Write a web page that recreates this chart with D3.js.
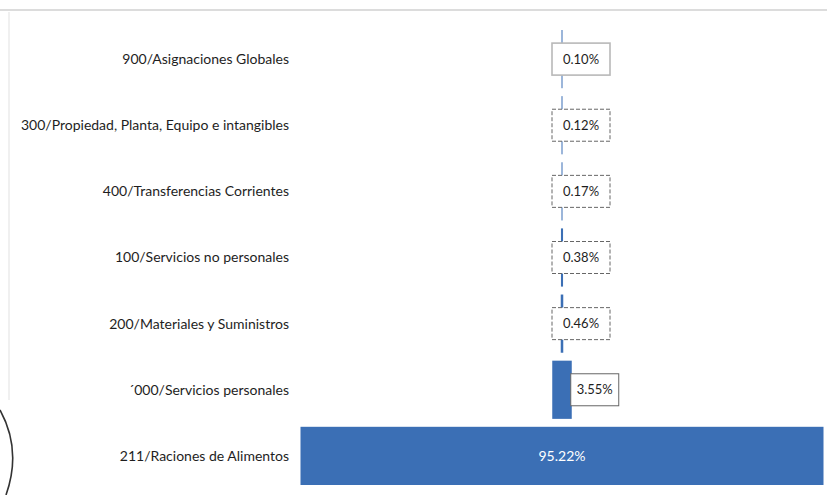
<!DOCTYPE html>
<html>
<head>
<meta charset="utf-8">
<script src="https://cdn.jsdelivr.net/npm/d3@7.9.0/dist/d3.min.js"></script>
<style>
  body { margin: 0; background: #fff; }
  svg { display: block; }
  .cat { font-family: Lato, "Open Sans", sans-serif; font-size: 14px; fill: #1e1e1e; }
  .pct { font-family: Lato, "Open Sans", sans-serif; font-size: 13px; fill: #1e1e1e; }
</style>
</head>
<body>
<svg id="chart" width="827" height="495"></svg>
<script>
// data
const categories = [
  '900/Asignaciones Globales',
  '300/Propiedad, Planta, Equipo e intangibles',
  '400/Transferencias Corrientes',
  '100/Servicios no personales',
  '200/Materiales y Suministros',
  '\u00b4000/Servicios personales',
  '211/Raciones de Alimentos'
];
const shares = [0.10, 0.12, 0.17, 0.38, 0.46, 3.55, 95.22];
const shareLabels = ['0.10%', '0.12%', '0.17%', '0.38%', '0.46%', '3.55%', '95.22%'];

const width = 827, height = 495;
const centerX = 562;
const barColor = '#3b6fb5';

const svg = d3.select('#chart');

// scan frame bits
svg.append('line')
  .attr('x1', 0).attr('x2', width).attr('y1', 10).attr('y2', 10)
  .attr('stroke', '#d0d0d0').attr('stroke-width', 1.5);
svg.append('line')
  .attr('x1', 9).attr('x2', 9).attr('y1', 12).attr('y2', 400)
  .attr('stroke', '#f0f0f0').attr('stroke-width', 2);
svg.append('path')
  .attr('d', 'M 0 410 Q 22 450 6 495')
  .attr('fill', 'none').attr('stroke', '#333').attr('stroke-width', 1.6);

let y = d3.scaleBand()
  .domain(categories)
  .range([30, 485])
  .paddingInner(0.12)
  .paddingOuter(0);

// funnel: widths from linear scale, bars centered
let w = d3.scaleLinear().domain([0, d3.max(shares)]).range([0, 523]);

let rows = categories.map((c, i) => ({ cat: c, value: shares[i], label: shareLabels[i] }));

svg.append('g')
  .selectAll('rect')
  .data(rows)
  .join('rect')
  .attr('x', d => centerX - Math.max(w(d.value), 1) / 2)
  .attr('y', d => y(d.cat))
  .attr('width', d => Math.max(w(d.value), 1))
  .attr('height', y.bandwidth())
  .attr('fill', barColor);

// category labels
svg.append('g')
  .selectAll('text')
  .data(rows)
  .join('text')
  .attr('class', 'cat')
  .attr('x', 289)
  .attr('y', d => y(d.cat) + y.bandwidth() / 2)
  .attr('dy', '0.35em')
  .attr('text-anchor', 'end')
  .text(d => d.cat);

// value labels
let big = rows.filter(d => w(d.value) > 100);
let small = rows.filter(d => w(d.value) <= 100);

let boxes = svg.append('g')
  .selectAll('g')
  .data(small)
  .join('g')
  .attr('transform', d => {
    let right = centerX + w(d.value) / 2;
    let bx = w(d.value) > 10 ? right - 1 : centerX - 10;
    return `translate(${bx},${y(d.cat) + y.bandwidth() / 2})`;
  });

boxes.append('rect')
  .attr('x', 0)
  .attr('y', -16)
  .attr('width', d => w(d.value) > 10 ? 48 : 58)
  .attr('height', 32)
  .attr('fill', '#fff')
  .attr('stroke', (d, i) => i === 0 ? '#b8b8b8' : '#666')
  .attr('stroke-width', (d, i) => i === 0 ? 1.6 : 1)
  .attr('stroke-dasharray', (d, i) => i === 0 || w(d.value) > 10 ? null : '4,2');

boxes.append('text')
  .attr('class', 'pct')
  .attr('x', d => (w(d.value) > 10 ? 48 : 58) / 2)
  .attr('dy', '0.35em')
  .attr('text-anchor', 'middle')
  .text(d => d.label);

svg.append('g')
  .selectAll('text')
  .data(big)
  .join('text')
  .attr('class', 'pct')
  .attr('x', centerX)
  .attr('y', d => y(d.cat) + y.bandwidth() / 2)
  .attr('dy', '0.35em')
  .attr('text-anchor', 'middle')
  .style('fill', '#fff')
  .style('font-size', '14px')
  .text(d => d.label);
</script>
</body>
</html>
